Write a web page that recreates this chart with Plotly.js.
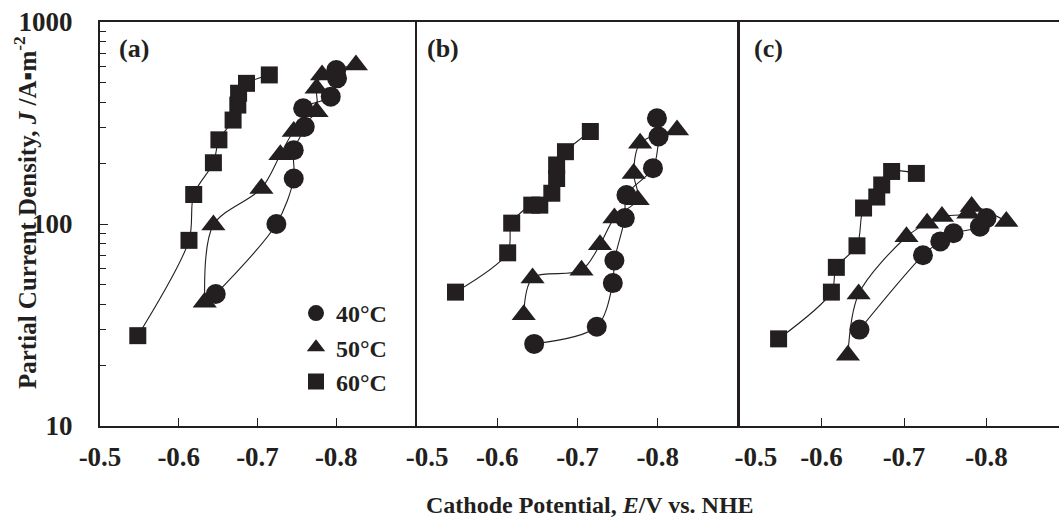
<!DOCTYPE html>
<html>
<head>
<meta charset="utf-8">
<script src="https://cdn.plot.ly/plotly-3.0.1.min.js"></script>
<style>
html, body { margin: 0; padding: 0; overflow: hidden; background: #fff; }
#chart { width: 1070px; height: 526px; }
</style>
</head>
<body>
<div id="chart"></div>
<script>
// ---- Data (cathode potential E [V vs NHE], partial current density J [A/m2]) ----
// Panel (a)
const E40a = [-0.647, -0.724, -0.746, -0.746, -0.760, -0.758, -0.793, -0.801, -0.800];
const J40a = [45, 100, 168, 232, 303, 374, 427, 526, 578];
const E50a = [-0.633, -0.644, -0.705, -0.729, -0.746, -0.775, -0.775, -0.782, -0.825];
const J50a = [41, 99, 150, 220, 287, 360, 470, 547, 613];
const E60a = [-0.548, -0.613, -0.619, -0.644, -0.651, -0.669, -0.675, -0.676, -0.686, -0.715];
const J60a = [28, 83, 140, 201, 261, 327, 388, 444, 497, 547];
// Panel (b)
const E40b = [-0.646, -0.724, -0.744, -0.746, -0.759, -0.761, -0.794, -0.801, -0.799];
const J40b = [25.5, 31, 51, 66, 107, 139, 189, 271, 334];
const E50b = [-0.633, -0.644, -0.705, -0.728, -0.746, -0.775, -0.770, -0.778, -0.824];
const J50b = [35.5, 54, 59, 79, 107, 132, 178, 251, 292];
const E60b = [-0.548, -0.613, -0.618, -0.643, -0.653, -0.668, -0.674, -0.674, -0.685, -0.716];
const J60b = [46, 72, 101, 124, 124, 142, 168, 196, 228, 287];
// Panel (c)
const E40c = [-0.646, -0.723, -0.744, -0.760, -0.792, -0.800];
const J40c = [30, 70, 82, 90, 97, 107];
const E50c = [-0.632, -0.645, -0.703, -0.728, -0.746, -0.778, -0.782, -0.824];
const J50c = [22.4, 45, 86.5, 101, 109, 113, 122, 103];
const E60c = [-0.548, -0.612, -0.618, -0.643, -0.651, -0.667, -0.673, -0.685, -0.715];
const J60c = [27, 46, 61, 78, 120, 136, 156, 182, 178];

// ---- Labels ----
const seriesNames = ['40\u00b0C', '50\u00b0C', '60\u00b0C'];
const panelLabels = ['(a)', '(b)', '(c)'];
const xTickVals = [-0.5, -0.6, -0.7, -0.8];
const xTickTextA = ['-0.5', '-0.6', '-0.7', '-0.8'];
const xTickTextB = ['\u00a0\u00a0\u00a0-0.5', '-0.6', '-0.7', '-0.8'];
const xTickTextC = ['\u00a0\u00a0\u00a0\u00a0\u00a0-0.5', '-0.6', '-0.7', '-0.8'];
const yTickVals = [10, 100, 1000];
const yTickText = ['10', '100', '1000'];
const yMinorVals = [20, 30, 40, 50, 60, 70, 80, 90, 200, 300, 400, 500, 600, 700, 800, 900];
const xTitle = 'Cathode Potential, <i>E</i>/V vs. NHE';
const yTitle = 'Partial Current Density, <i>J</i> /A\u25aam<sup>-2</sup>';

// ---- Styling ----
const FONT = 'Liberation Serif, Times New Roman, serif';
const INK = '#231f20';
const symbols = ['circle', 'triangle-up', 'square'];
const sizes = [20, 21, 17];

const panels = [
  { xa: 'x', ya: 'y', sets: [[E40a, J40a], [E50a, J50a], [E60a, J60a]] },
  { xa: 'x2', ya: 'y2', sets: [[E40b, J40b], [E50b, J50b], [E60b, J60b]] },
  { xa: 'x3', ya: 'y3', sets: [[E40c, J40c], [E50c, J50c], [E60c, J60c]] }
];

const traces = [];
panels.forEach(p => {
  p.sets.forEach((s, i) => {
    traces.push({
      x: s[0], y: s[1], xaxis: p.xa, yaxis: p.ya,
      type: 'scatter', mode: 'lines+markers',
      line: { color: INK, width: 1.1, shape: 'spline', smoothing: 0.9 },
      marker: { symbol: symbols[i], size: sizes[i], color: INK, line: { width: 0 } },
      showlegend: false, hoverinfo: 'skip'
    });
  });
});
// legend entries (markers only)
seriesNames.forEach((n, i) => {
  traces.push({
    x: [null], y: [null], xaxis: 'x', yaxis: 'y', type: 'scatter', mode: 'markers',
    name: n, marker: { symbol: symbols[i], size: sizes[i], color: INK }, showlegend: true
  });
});

const tickFont = { family: FONT, size: 27, color: INK, weight: 700 };

function xAxis(domain, ticktext, anchor) {
  return {
    domain: domain, anchor: anchor, range: [-0.5, -0.9], autorange: false,
    showline: true, linecolor: INK, linewidth: 2, mirror: true,
    showgrid: false, zeroline: false,
    ticks: 'inside', ticklen: 8, tickwidth: 1, tickcolor: INK,
    tickmode: 'array', tickvals: xTickVals, ticktext: ticktext,
    tickfont: tickFont, ticklabelstandoff: 6
  };
}
function yAxis(anchor, showLabels) {
  const ax = {
    type: 'log', range: [1, 3], autorange: false, anchor: anchor, domain: [0, 1],
    showline: true, linecolor: INK, linewidth: 2, mirror: true,
    showgrid: false, zeroline: false,
    showticklabels: showLabels
  };
  if (showLabels) {
    Object.assign(ax, {
      ticks: 'inside', ticklen: 8, tickwidth: 1, tickcolor: INK,
      tickmode: 'array', tickvals: yTickVals, ticktext: yTickText,
      tickfont: tickFont, ticklabelstandoff: 20,
      minor: { tickmode: 'array', tickvals: yMinorVals, ticks: 'inside', ticklen: 6, tickwidth: 1, tickcolor: INK }
    });
  } else {
    ax.ticks = '';
  }
  return ax;
}

const W = 1070, H = 526, ML = 100, MT = 22, MB = 100, MR = 1;
const PW = W - ML - MR;  // 969
const PH = H - MT - MB;  // 404

const annotations = [];
panelLabels.forEach((t, i) => {
  const xr = i === 0 ? 'x domain' : ('x' + (i + 1) + ' domain');
  const yr = i === 0 ? 'y domain' : ('y' + (i + 1) + ' domain');
  annotations.push({
    text: t, xref: xr, yref: yr, x: 0, y: 1, xanchor: 'left', yanchor: 'middle',
    xshift: [17, 8, 13][i], yshift: -26, showarrow: false,
    font: { family: FONT, size: 26, color: INK, weight: 700 }
  });
});
annotations.push({
  text: yTitle, xref: 'paper', yref: 'paper', x: 0, y: 1 - (213 - MT) / PH,
  xanchor: 'center', yanchor: 'middle', xshift: -75, textangle: -90, showarrow: false,
  font: { family: FONT, size: 25, color: INK, weight: 700 }
});
annotations.push({
  text: xTitle, xref: 'paper', yref: 'paper', x: (590 - ML) / PW, y: -(505 - 426) / PH,
  xanchor: 'center', yanchor: 'middle', showarrow: false,
  font: { family: FONT, size: 24, color: INK, weight: 700 }
});

const layout = {
  width: W, height: H,
  margin: { l: ML, r: MR, t: MT, b: MB, pad: 0 },
  paper_bgcolor: '#fff', plot_bgcolor: '#fff',
  font: { family: FONT, color: INK },
  showlegend: true,
  legend: {
    x: (296 - ML) / PW, y: 1 - (291 - MT) / PH, xanchor: 'left', yanchor: 'top',
    bgcolor: 'rgba(0,0,0,0)', borderwidth: 0,
    font: { family: FONT, size: 24, color: INK, weight: 700 },
    itemsizing: 'trace', tracegroupgap: 0
  },
  xaxis: xAxis([0, 315 / PW], xTickTextA, 'y'),
  xaxis2: xAxis([317 / PW, 638 / PW], xTickTextB, 'y2'),
  xaxis3: xAxis([639 / PW, 1], xTickTextC, 'y3'),
  yaxis: yAxis('x', true),
  yaxis2: yAxis('x2', false),
  yaxis3: yAxis('x3', false),
  annotations: annotations
};

Plotly.newPlot('chart', traces, layout, { staticPlot: true, displayModeBar: false });
</script>
</body>
</html>
